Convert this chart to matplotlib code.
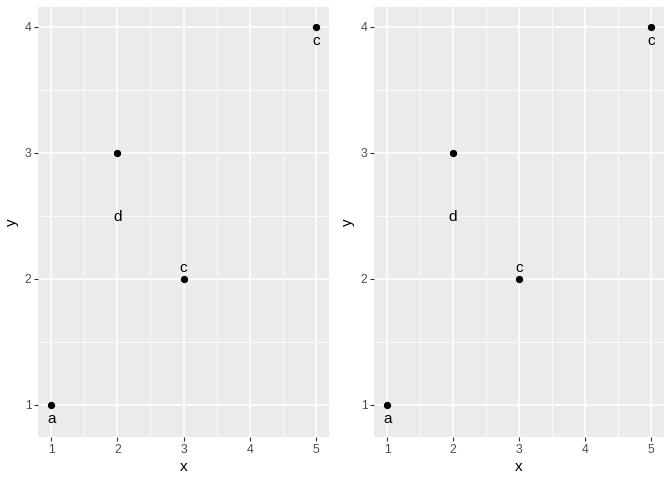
import numpy as np
import matplotlib.pyplot as plt

plt.rcParams['font.family'] = ['Liberation Sans', 'DejaVu Sans']

# data
x = [1, 2, 3, 5]
y = [1, 3, 2, 4]
label_x = [1, 2, 3, 5]
label_y = [0.9, 2.5, 2.1, 3.9]
labels = ['a', 'd', 'c', 'c']

fig = plt.figure(figsize=(6.72, 4.8), dpi=100)
ax_left = fig.add_axes([38 / 672, 1 - 437 / 480, 291 / 672, 430 / 480])
ax_right = fig.add_axes([374 / 672, 1 - 437 / 480, 290 / 672, 430 / 480])

ymin = min(min(y), min(label_y))
ymax = max(max(y), max(label_y))
yr = ymax - ymin

for ax in (ax_left, ax_right):
    ax.set_facecolor('#EBEBEB')
    for s in ax.spines.values():
        s.set_visible(False)
    ax.set_xlim(1 - 0.2, 5 + 0.2)
    ax.set_ylim(ymin - 0.05 * yr, ymax + 0.05 * yr)
    ax.set_xticks([1, 2, 3, 4, 5])
    ax.set_yticks([1, 2, 3, 4])
    ax.set_xticks(np.arange(1.5, 5.0, 1.0), minor=True)
    ax.set_yticks(np.arange(1.5, 4.0, 1.0), minor=True)
    ax.grid(which='major', color='white', linewidth=1.1)
    ax.grid(which='minor', color='white', linewidth=0.55)
    ax.set_axisbelow(True)
    ax.tick_params(which='major', length=2.75, width=0.8, color='#333333',
                   labelsize=8.8, labelcolor='#4D4D4D', pad=2)
    ax.tick_params(which='minor', length=0)
    ax.scatter(x, y, s=18, color='black', zorder=3)
    for lx, ly, t in zip(label_x, label_y, labels):
        ax.text(lx, ly, t, ha='center', va='center_baseline', fontsize=11, color='black')
    ax.set_xlabel('x', fontsize=11, labelpad=3)
    ax.set_ylabel('y', fontsize=11, labelpad=4)

fig.savefig('out.png', dpi=100)
